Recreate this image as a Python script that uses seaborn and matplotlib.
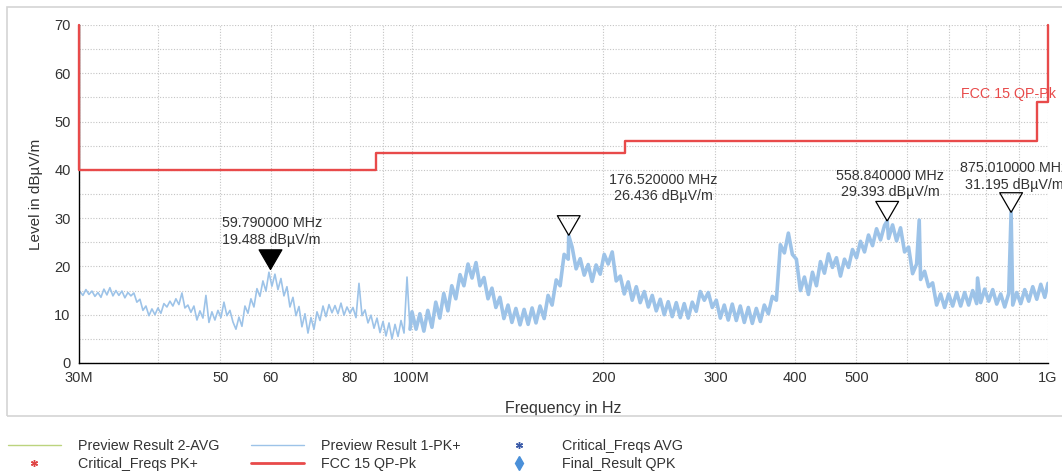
import matplotlib
matplotlib.use("Agg")
import matplotlib.pyplot as plt
import matplotlib.ticker as mticker
from matplotlib.lines import Line2D
from matplotlib.patches import Rectangle
import pandas as pd
import seaborn as sns

# Preview Result 1-PK+ trace, frequency in MHz, level in dBuV/m
pk_freq = [
    30.1, 30.43, 30.76, 31.1, 31.44, 31.78, 32.13, 32.48, 32.83, 33.19,
    33.55, 33.92, 34.29, 34.66, 35.04, 35.42, 35.81, 36.2, 36.59, 36.99,
    37.4, 37.81, 38.22, 38.64, 39.06, 39.49, 39.92, 40.35, 40.79, 41.24,
    41.69, 42.14, 42.6, 43.07, 43.54, 44.01, 44.49, 44.98, 45.47, 45.97,
    46.47, 46.98, 47.49, 48.01, 48.53, 49.06, 49.6, 50.14, 50.69, 51.24,
    51.8, 52.37, 52.94, 53.52, 54.1, 54.69, 55.29, 55.89, 56.5, 57.12,
    57.74, 58.37, 59.01, 59.65, 60.3, 60.96, 61.63, 62.3, 62.98, 63.67,
    64.36, 65.07, 65.78, 66.5, 67.22, 67.96, 68.7, 69.45, 70.21, 70.98,
    71.75, 72.54, 73.33, 74.13, 74.94, 75.76, 76.58, 77.42, 78.27, 79.12,
    79.98, 80.86, 81.74, 82.63, 83.54, 84.45, 85.37, 86.3, 87.25, 88.2,
    89.16, 90.14, 91.12, 92.12, 93.12, 94.14, 95.17, 96.21, 97.26, 98.32,
    99.39,
    100.1, 101.6, 103.0, 104.5, 106.0, 107.6, 109.1, 110.7, 112.3, 114.0,
    115.6, 117.3, 119.1, 120.8, 122.6, 124.4, 126.2, 128.0, 129.9, 131.8,
    133.7, 135.6, 137.6, 139.6, 141.7, 143.7, 145.8, 148.0, 150.2, 152.4,
    154.6, 156.8, 159.1, 161.5, 163.8, 166.2, 168.7, 171.1, 173.6, 176.2,
    176.5, 178.7, 181.3, 184.0, 186.7, 189.4, 192.1, 194.9, 197.8, 200.7,
    203.6, 206.6, 209.6, 212.7, 215.8, 218.9, 222.1, 225.4, 228.6, 232.0,
    235.4, 238.8, 242.3, 245.8, 249.4, 253.0, 256.7, 260.5, 264.3, 268.1,
    272.0, 276.0, 280.0, 284.1, 288.3, 292.5, 296.7, 301.1, 305.5, 309.9,
    314.4, 319.0, 323.7, 328.4, 333.2, 338.1, 343.0, 348.0, 353.1, 358.2,
    363.5, 368.8, 374.2, 379.7, 385.2, 390.8, 396.5, 402.3, 408.2, 414.2,
    420.2, 426.4, 432.6, 438.9, 445.3, 451.8, 458.4, 465.1, 471.9, 478.8,
    485.8, 492.9, 500.1, 507.4, 514.8, 522.3, 530.0, 537.7, 545.5, 553.5,
    558.8, 561.6, 569.8, 578.1, 586.5, 595.1, 603.8, 612.6, 621.6, 627.5,
    630.6, 639.8, 649.2, 658.7, 668.3, 678.0, 687.9, 698.0, 708.2, 718.5,
    729.0, 739.6, 750.4, 761.4, 772.5, 775.0, 783.8, 795.3, 806.9, 818.7,
    830.6, 842.7, 855.0, 867.5, 875.0, 880.2, 893.0, 906.1, 919.3, 932.7,
    946.3, 960.2, 974.2, 988.4, 1000.0,
]
pk_level = [
    14.8, 14.0, 15.2, 14.2, 14.9, 13.8, 14.6, 13.6, 15.3, 14.1,
    15.6, 13.9, 15.0, 14.0, 14.9, 13.5, 14.6, 13.9, 14.5, 12.6,
    13.2, 10.9, 11.8, 9.8, 11.2, 10.0, 11.4, 10.3, 12.3, 11.6,
    12.8, 11.8, 13.3, 12.1, 14.5, 11.4, 12.0, 10.5, 11.8, 8.9,
    10.8, 9.3, 14.0, 8.4, 10.6, 8.9, 10.9, 9.4, 12.6, 9.8,
    10.9, 8.5, 7.0, 9.5, 7.6, 11.8, 10.3, 13.3, 11.6, 15.4,
    13.8, 17.0, 14.9, 18.8, 15.9, 18.4, 15.2, 17.5, 13.9, 15.8,
    11.6, 13.6, 9.8, 11.7, 7.5, 10.2, 6.2, 9.4, 7.0, 10.6,
    8.8, 11.8, 9.6, 12.1, 10.4, 11.9, 10.2, 12.4, 9.9, 11.6,
    10.3, 11.5, 9.4, 16.5, 9.8, 11.0, 8.3, 9.9, 7.2, 9.3,
    6.3, 8.6, 5.6, 8.3, 5.0, 8.0, 5.5, 8.8, 6.2, 17.8,
    7.0,
    10.6, 7.0, 10.2, 6.6, 10.9, 7.4, 12.6, 9.3, 14.4, 10.8,
    16.0, 13.3, 18.3, 16.0, 20.5, 17.6, 20.8, 16.0, 17.7, 13.3,
    15.5, 11.5, 13.6, 9.2, 12.0, 8.4, 11.3, 7.9, 11.1, 8.0,
    11.4, 8.3, 11.8, 9.2, 14.0, 12.0, 17.2, 16.0, 22.5, 21.5,
    26.4, 24.0, 19.5, 21.6, 18.2, 20.4, 16.9, 20.3, 18.4, 22.5,
    20.5, 23.0, 17.0, 18.0, 14.3, 16.8, 13.0, 15.8, 12.5, 14.8,
    11.6, 14.0, 10.8, 13.2, 10.0, 12.7, 9.6, 12.5, 9.4, 12.3,
    9.3, 12.6, 10.7, 14.8, 13.0, 14.6, 11.5, 13.0, 9.3, 12.0,
    8.9, 12.2, 8.8, 11.8, 8.4, 11.5, 8.2, 11.3, 8.6, 12.0,
    10.2, 13.8, 13.0, 24.5, 22.8, 26.9, 22.5, 21.5, 15.0, 17.8,
    14.2, 18.8, 16.0, 21.0, 18.6, 22.6, 19.8, 21.8, 18.0, 21.5,
    19.8, 23.5, 21.8, 25.2, 23.0, 26.5, 24.3, 27.8, 25.5, 28.5,
    29.4, 25.8, 28.6, 25.3, 28.0, 23.0, 24.0, 18.5, 20.5, 29.6,
    17.3, 19.0, 15.8, 16.6, 12.0, 14.3, 11.5, 14.3, 11.8, 14.6,
    11.8, 14.6, 12.0, 15.0, 12.3, 17.6, 12.5, 15.3, 12.8, 15.2,
    12.2, 14.3, 11.6, 14.4, 31.2, 12.0, 14.6, 12.3, 15.2, 12.8,
    15.8, 13.2, 16.3, 13.6, 16.5,
]

# FCC 15 QP-Pk limit line
limit_freq = [30, 30, 88, 88, 216, 216, 960, 960, 1000, 1000]
limit_level = [70, 40, 40, 43.5, 43.5, 46, 46, 54, 54, 70]

# marked peaks
peak_freq = [59.79, 176.52, 558.84, 875.01]
peak_level = [19.488, 26.436, 29.393, 31.195]
peak_filled = [True, False, False, False]
# label offsets from the marker tip, in points
label_offset = [(1.5, 16), (68, 23), (2, 16), (2, 15)]

x_major = [30, 50, 60, 80, 100, 200, 300, 400, 500, 800, 1000]
x_major_labels = ["30M", "50", "60", "80", "100M", "200", "300", "400", "500", "800", "1G"]
x_minor = [40, 70, 90, 600, 700, 900]

trace_color = "#9dc3e8"
limit_color = "#e84a4a"
text_color = "#333333"

sns.set_style("white")
plt.rcParams['font.family'] = ['Liberation Sans', 'DejaVu Sans']

W, H = 1062, 472
fig = plt.figure(figsize=(W / 100, H / 100), dpi=100)
ax = fig.add_axes([79 / W, 1 - 363 / H, (1048 - 79) / W, (363 - 25) / H])
ax.set_xscale("log")
ax.set_xlim(30, 1000)
ax.set_ylim(0, 70)

pk = pd.DataFrame({"freq": pk_freq, "level": pk_level})
sns.lineplot(data=pk, x="freq", y="level", ax=ax, color=trace_color, lw=1.2,
             estimator=None, sort=False)
# above 100 MHz the sweep is much denser, draw it as a thicker band
sns.lineplot(data=pk[pk["freq"] >= 99], x="freq", y="level", ax=ax,
             color=trace_color, lw=2.6, estimator=None, sort=False)
sns.lineplot(x=limit_freq, y=limit_level, ax=ax, color=limit_color, lw=1.7,
             estimator=None, sort=False, zorder=4, clip_on=False)

tri = [(0, 0), (-0.58, 1), (0.58, 1), (0, 0)]
for f, lv, filled, (dx, dy) in zip(peak_freq, peak_level, peak_filled, label_offset):
    sns.scatterplot(x=[f], y=[lv], ax=ax, marker=tri, s=800,
                    color="black" if filled else "none", edgecolor="black",
                    linewidth=0.9, zorder=5, clip_on=False)
    ax.annotate(f"{f:.6f} MHz\n{lv:.3f} dBµV/m", xy=(f, lv), xytext=(dx, dy),
                textcoords="offset points", ha="center", va="bottom",
                fontsize=10.3, color=text_color, linespacing=1.2,
                annotation_clip=False)

ax.text(729, 54.3, "FCC 15 QP-Pk", color=limit_color, fontsize=10.3,
        ha="left", va="bottom")

ax.xaxis.set_major_locator(mticker.FixedLocator(x_major))
ax.xaxis.set_major_formatter(mticker.FixedFormatter(x_major_labels))
ax.xaxis.set_minor_locator(mticker.FixedLocator(x_minor))
ax.xaxis.set_minor_formatter(mticker.NullFormatter())
ax.yaxis.set_major_locator(mticker.MultipleLocator(10))
ax.yaxis.set_minor_locator(mticker.MultipleLocator(5))

ax.grid(which="both", ls=(0, (1, 1.5)), color="#c4c4c4", lw=0.8)
ax.set_axisbelow(True)
ax.tick_params(which="both", direction="inout", length=5, width=0.8,
               colors="black", labelcolor=text_color, labelsize=10.5)
for s in ["top", "right"]:
    ax.spines[s].set_visible(False)
for s in ["left", "bottom"]:
    ax.spines[s].set_color("black")
    ax.spines[s].set_linewidth(1.0)

ax.set_xlabel("Frequency in Hz", fontsize=11.5, color=text_color, labelpad=11)
ax.set_ylabel("Level in dBµV/m", fontsize=11, color=text_color, labelpad=8)

fig.patches.append(Rectangle((7 / W, 1 - 416 / H), 1.0, (416 - 7) / H,
                             transform=fig.transFigure, fill=False,
                             edgecolor="#d4d4d4", lw=1.2, zorder=0))

handles = [
    Line2D([], [], color="#bcd47e", lw=1),
    Line2D([], [], ls="none", marker=(6, 2, 0), color="#e04545", ms=5, mew=1),
    Line2D([], [], color=trace_color, lw=1),
    Line2D([], [], color=limit_color, lw=2),
    Line2D([], [], ls="none", marker=(6, 2, 0), color="#3a5aa8", ms=5, mew=1),
    Line2D([], [], ls="none", marker="d", color="#4a90d9", ms=7),
]
labels = ["Preview Result 2-AVG", "Critical_Freqs PK+", "Preview Result 1-PK+",
          "FCC 15 QP-Pk", "Critical_Freqs AVG", "Final_Result QPK"]
leg = fig.legend(handles, labels, ncol=3, loc="upper left",
                 bbox_to_anchor=(8 / W, 1 - 439 / H), frameon=False, fontsize=10.3,
                 handlelength=3.7, handletextpad=1.2, columnspacing=2.2,
                 labelspacing=0.25, borderaxespad=0, borderpad=0)
for t in leg.get_texts():
    t.set_color(text_color)

fig.savefig("out.png", dpi=100)
